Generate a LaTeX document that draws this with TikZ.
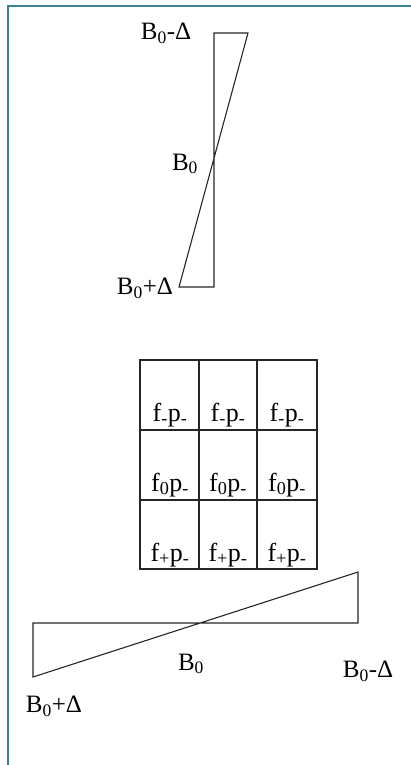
\documentclass[tikz,border=0pt]{standalone}
\usepackage{fontspec}
\setmainfont{Liberation Serif}
\begin{document}
\begin{tikzpicture}[x=1pt,y=-1pt,
  lbl/.style={font=\fontsize{25}{28}\selectfont, inner sep=0pt},
  cell/.style={font=\fontsize{26}{28}\selectfont, inner sep=0pt, anchor=base},
  ln/.style={line width=1.1pt, black!85},
  gl/.style={line width=1.6pt, black!85},
  frame/.style={line width=2pt, color={rgb,255:red,58;green,130;blue,150}}]
\useasboundingbox (0,0) rectangle (411,765);
% frame
\coordinate (fbl) at (8,765);
\coordinate (ftl) at (8,6);
\coordinate (ftr) at (411,6);
\draw[frame] (fbl) -- (ftl) -- (ftr);
% top diagram
\coordinate (t1) at (214,33);
\coordinate (t2) at (248,33);
\coordinate (t3) at (214,287);
\coordinate (t4) at (179,287);
\draw[ln] (t4) -- (t3) -- (t1) -- (t2) -- cycle;
\node[lbl] (tm) at (166,33) {B\textsubscript{0}-Δ};
\node[lbl] (tc) at (185,164) {B\textsubscript{0}};
\node[lbl] (tp) at (145,288) {B\textsubscript{0}+Δ};
% grid
\draw[gl] (140,360) rectangle (317,569);
\draw[gl] (199,360) -- (199,569);
\draw[gl] (257,360) -- (257,569);
\draw[gl] (140,430) -- (317,430);
\draw[gl] (140,500) -- (317,500);
\node[cell] (c11) at (170,421) {f\textsubscript{-}p\textsubscript{-}};
\node[cell] (c12) at (228,421) {f\textsubscript{-}p\textsubscript{-}};
\node[cell] (c13) at (287,421) {f\textsubscript{-}p\textsubscript{-}};
\node[cell] (c21) at (170,491) {f\textsubscript{0}p\textsubscript{-}};
\node[cell] (c22) at (228,491) {f\textsubscript{0}p\textsubscript{-}};
\node[cell] (c23) at (287,491) {f\textsubscript{0}p\textsubscript{-}};
\node[cell] (c31) at (170,561) {f\textsubscript{+}p\textsubscript{-}};
\node[cell] (c32) at (228,561) {f\textsubscript{+}p\textsubscript{-}};
\node[cell] (c33) at (287,561) {f\textsubscript{+}p\textsubscript{-}};
% bottom diagram
\coordinate (b1) at (33,623);
\coordinate (b2) at (358,623);
\coordinate (b3) at (358,572);
\coordinate (b4) at (33,677);
\draw[ln] (b4) -- (b1) -- (b2) -- (b3) -- cycle;
\node[lbl] (bc) at (191,664) {B\textsubscript{0}};
\node[lbl] (bm) at (368,671) {B\textsubscript{0}-Δ};
\node[lbl] (bp) at (54,706) {B\textsubscript{0}+Δ};
\end{tikzpicture}
\end{document}
